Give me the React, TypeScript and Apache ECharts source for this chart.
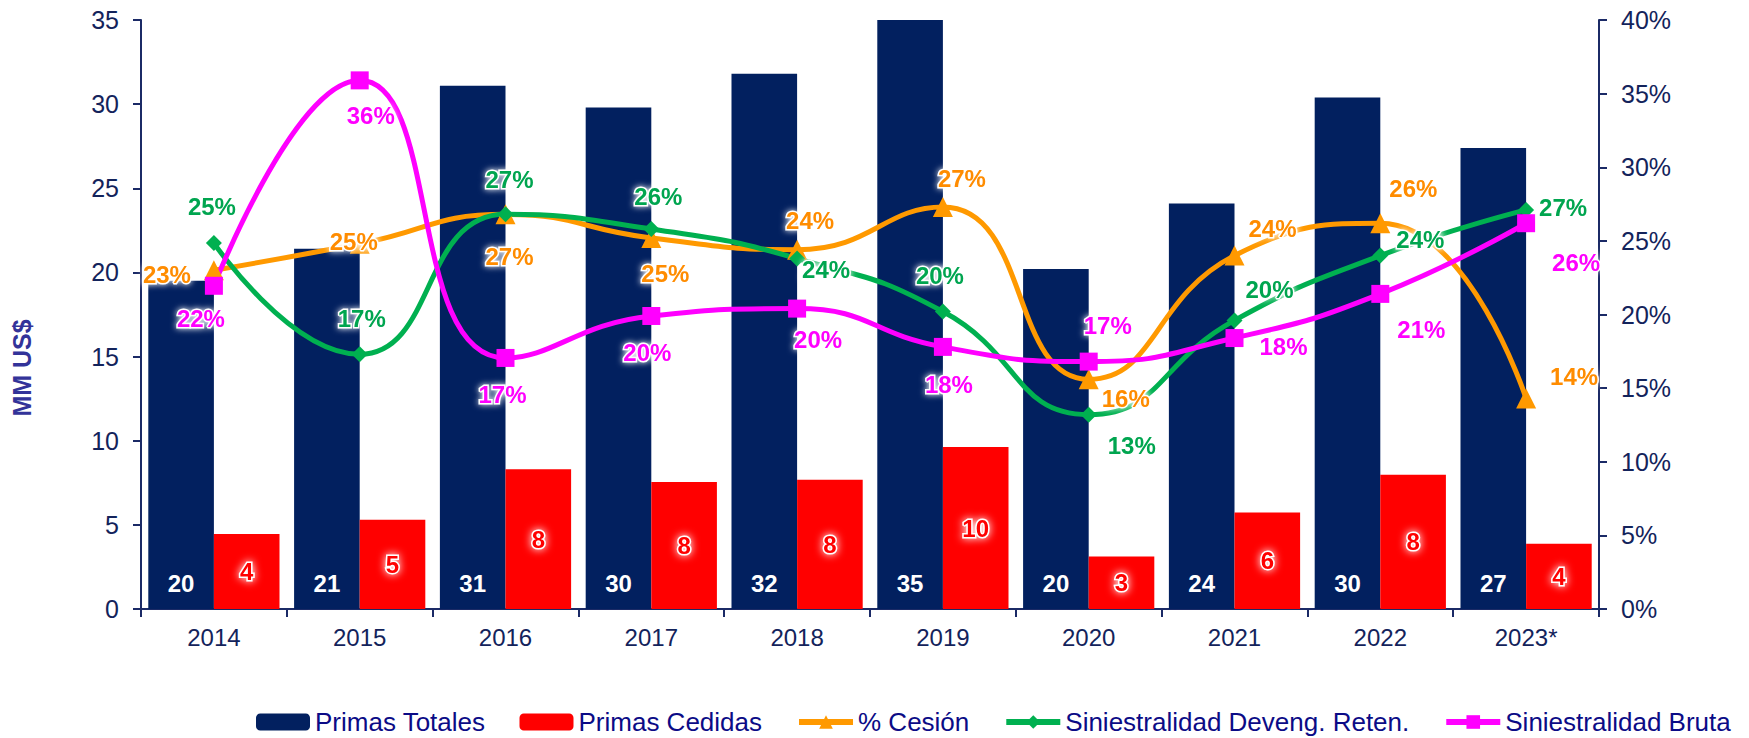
import React, { useEffect, useRef } from "react";
import * as echarts from "echarts";

const categories = ["2014", "2015", "2016", "2017", "2018", "2019", "2020", "2021", "2022", "2023*"];
const primasTotales = [19.5, 21.4, 31.1, 29.8, 31.8, 35.0, 20.2, 24.1, 30.4, 27.4];
const primasCedidas = [4.45, 5.3, 8.3, 7.54, 7.68, 9.62, 3.12, 5.74, 7.98, 3.88];
const pctCesion = [23.0, 24.8, 26.8, 25.2, 24.4, 27.3, 15.6, 24.0, 26.2, 14.3];
const siniestDeveng = [24.85, 17.3, 26.8, 25.8, 23.8, 20.2, 13.2, 19.6, 24.0, 27.1];
const siniestBruta = [21.95, 35.9, 17.05, 19.9, 20.4, 17.8, 16.8, 18.4, 21.4, 26.2];
const leftTicks = { min: 0, max: 35, interval: 5 };
const rightTicks = { min: 0, max: 40, interval: 5 };

// label offsets (px) relative to each point
const cesionLabelOffsets = [[-47, 4], [-6, -2], [4, 42], [14, 36], [13, -29], [19, -29], [37, 19], [38, -27], [33, -35], [48, -22]];
const devengLabelOffsets = [[-2, -37], [2, -36], [4, -35], [7, -33], [29, 11], [-3, -36], [43, 31], [35, -31], [40, -16], [37, -2]];
const brutaLabelOffsets = [[-13, 33], [11, 35], [-3, 37], [-4, 37], [21, 31], [6, 38], [19, -36], [49, 8], [41, 36], [50, 39]];

const FONT = "'Liberation Sans', Arial, sans-serif";
const AXIS_COLOR = "#1B2A66";
const AXIS_TEXT = "#13235B";

function lineSeries(name: string, values: number[], offsets: number[][], color: string, labelColor: string, symbol: string, symbolSize: number) {
  return {
    name,
    type: "line",
    yAxisIndex: 1,
    smooth: 0.5,
    symbol,
    symbolSize,
    z: 5,
    lineStyle: { color, width: 5 },
    itemStyle: { color },
    data: values.map((v, i) => ({
      value: v,
      label: { offset: offsets[i] },
    })),
    label: {
      show: true,
      position: "inside",
      align: "center",
      verticalAlign: "middle",
      color: labelColor,
      fontFamily: FONT,
      fontWeight: "bold",
      fontSize: 24,
      textBorderColor: "#ffffff",
      textBorderWidth: 3,
      textShadowColor: "#ffffff",
      textShadowBlur: 6,
      formatter: (p: any) => Math.round(p.value) + "%",
    },
  };
}

export default function App() {
  const ref = useRef<HTMLDivElement>(null);
  useEffect(() => {
    if (!ref.current) return;
    const chart = echarts.init(ref.current, undefined, { renderer: "svg" });
    chart.setOption({
      animation: false,
      backgroundColor: "#ffffff",
      grid: { left: 141, right: 150, top: 20, bottom: 129, containLabel: false },
      legend: {
        left: 251,
        top: 704,
        itemWidth: 54,
        itemHeight: 17,
        itemGap: 34,
        lineStyle: { width: 6 },
        textStyle: { color: "#0B0B86", fontSize: 26, fontFamily: FONT },
        data: ["Primas Totales", "Primas Cedidas", "% Cesión", "Siniestralidad Deveng. Reten.", "Siniestralidad Bruta"],
      },
      xAxis: {
        type: "category",
        data: categories,
        axisLine: { lineStyle: { color: AXIS_COLOR, width: 2 } },
        axisTick: { show: true, length: 8, lineStyle: { color: AXIS_COLOR, width: 2 } },
        axisLabel: { color: AXIS_TEXT, fontSize: 24, fontFamily: FONT, margin: 16 },
      },
      yAxis: [
        {
          type: "value",
          min: leftTicks.min,
          max: leftTicks.max,
          interval: leftTicks.interval,
          splitLine: { show: false },
          axisLine: { show: true, lineStyle: { color: AXIS_COLOR, width: 2 } },
          axisTick: { show: true, length: 8, lineStyle: { color: AXIS_COLOR, width: 2 } },
          axisLabel: { color: AXIS_TEXT, fontSize: 25, fontFamily: FONT, margin: 22 },
        },
        {
          type: "value",
          position: "right",
          min: rightTicks.min,
          max: rightTicks.max,
          interval: rightTicks.interval,
          splitLine: { show: false },
          axisLine: { show: true, lineStyle: { color: AXIS_COLOR, width: 2 } },
          axisTick: { show: true, length: 8, lineStyle: { color: AXIS_COLOR, width: 2 } },
          axisLabel: { color: AXIS_TEXT, fontSize: 25, fontFamily: FONT, margin: 22, formatter: "{value}%" },
        },
      ],
      graphic: [
        {
          type: "text",
          x: 22,
          y: 368,
          rotation: Math.PI / 2,
          style: {
            text: "MM US$",
            fill: "#333399",
            font: "bold 25px " + FONT,
            align: "center",
            verticalAlign: "middle",
          },
        },
      ],
      series: [
        {
          name: "Primas Totales",
          type: "bar",
          data: primasTotales,
          barGap: "0%",
          barCategoryGap: "10%",
          itemStyle: { color: "#02205F" },
          label: {
            show: true,
            position: "insideBottom",
            distance: 14,
            color: "#ffffff",
            fontFamily: FONT,
            fontWeight: "bold",
            fontSize: 24,
            formatter: (p: any) => String(Math.round(p.value)),
          },
        },
        {
          name: "Primas Cedidas",
          type: "bar",
          data: primasCedidas,
          barGap: "0%",
          barCategoryGap: "10%",
          itemStyle: { color: "#FF0000" },
          label: {
            show: true,
            position: "inside",
            color: "#FF0000",
            fontFamily: FONT,
            fontWeight: "bold",
            fontSize: 24,
            textBorderColor: "#ffffff",
            textBorderWidth: 3,
            textShadowColor: "#ffffff",
            textShadowBlur: 8,
            formatter: (p: any) => String(Math.round(p.value)),
          },
        },
        lineSeries("% Cesión", pctCesion, cesionLabelOffsets, "#FF9900", "#FF8C00", "triangle", 20),
        lineSeries("Siniestralidad Deveng. Reten.", siniestDeveng, devengLabelOffsets, "#00B050", "#00A550", "diamond", 16),
        lineSeries("Siniestralidad Bruta", siniestBruta, brutaLabelOffsets, "#FF00FF", "#FF00FF", "rect", 18),
      ],
    });
    return () => chart.dispose();
  }, []);
  return <div ref={ref} style={{ position: "fixed", left: 0, top: 0, width: 1749, height: 738, background: "#fff" }} />;
}
